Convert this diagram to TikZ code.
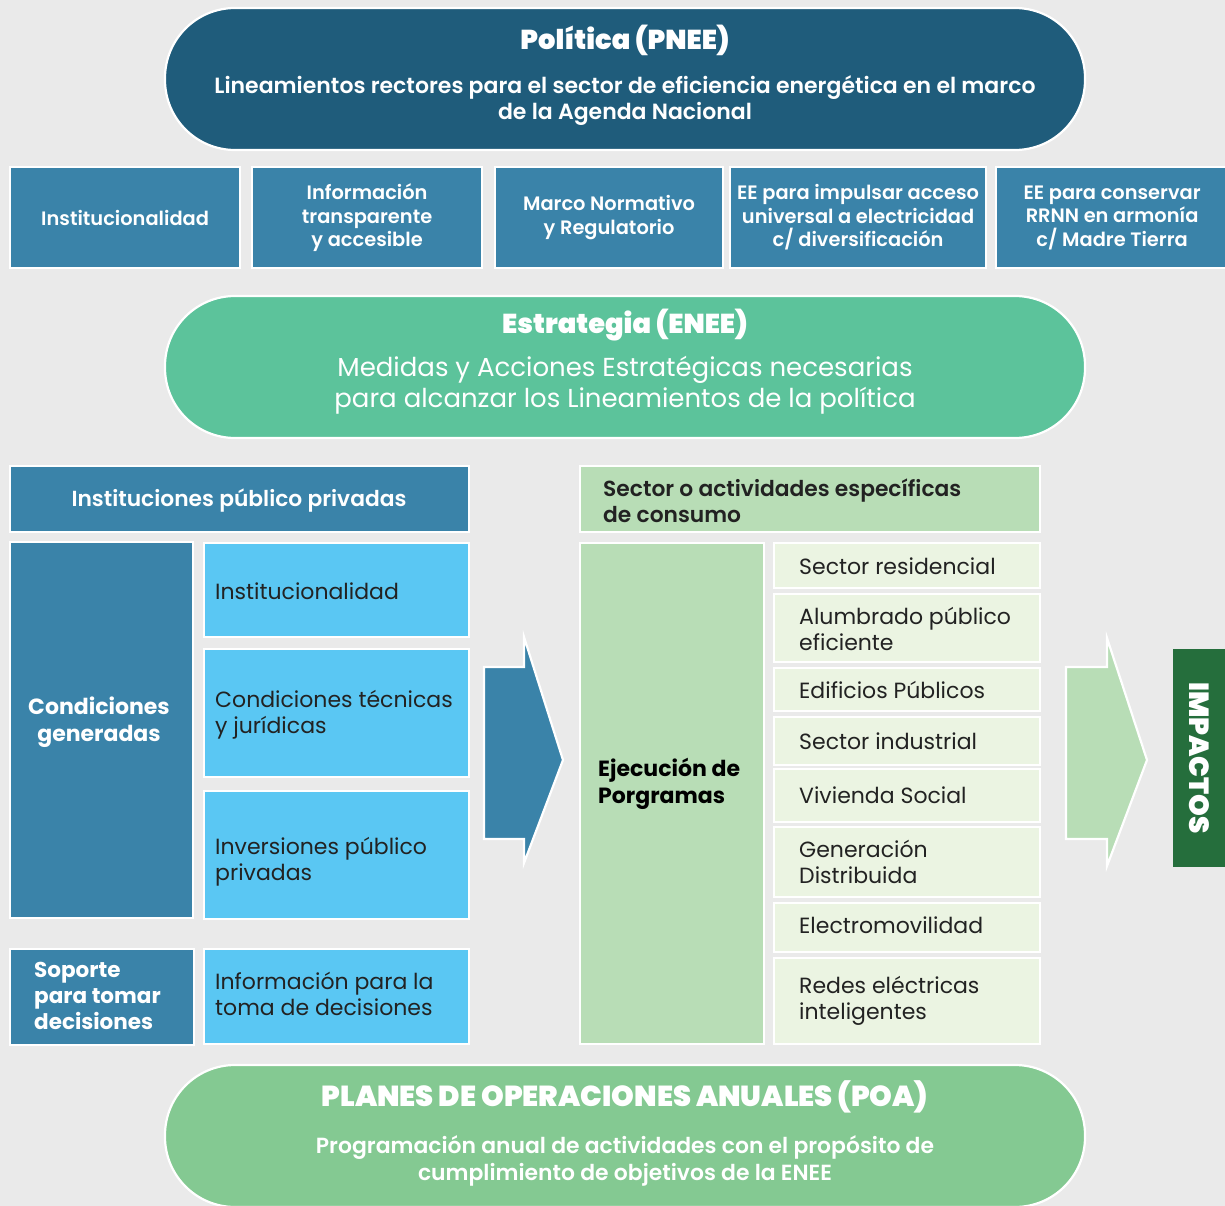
\documentclass[tikz,border=0pt]{standalone}
\usepackage{fontspec}
\setmainfont{Poppins}
\newfontfamily\pmed{Poppins Medium}
\newfontfamily\psemi{Poppins SemiBold}
\newfontfamily\pxb{Poppins ExtraBold}
\newfontfamily\pblk{Poppins Black}
\definecolor{bg}{HTML}{EAEAEA}
\definecolor{pnee}{HTML}{1F5C7B}
\definecolor{midblue}{HTML}{3A83A9}
\definecolor{ltblue}{HTML}{5AC7F3}
\definecolor{enee}{HTML}{5CC39B}
\definecolor{ltgreen}{HTML}{B8DDB6}
\definecolor{vltgreen}{HTML}{EBF4E2}
\definecolor{poa}{HTML}{84C992}
\definecolor{dkgreen}{HTML}{256E3C}
\definecolor{dktext}{HTML}{222222}
\begin{document}
\begin{tikzpicture}[x=1pt,y=-1pt,
  box/.style={draw=white, line width=2.2pt, anchor=north west, inner sep=0pt, align=center},
  pill/.style={draw=white, line width=2.2pt, rounded corners=70pt, minimum width=920pt, minimum height=142pt, inner sep=0pt},
  bigarrow/.style={draw=white, line width=2.2pt},
  rowtxt/.style={text=white, font=\psemi\fontsize{19.4}{23.5}\selectfont},
  hdrtxt/.style={font=\psemi\fontsize{21.8}{26}\selectfont, inner sep=0pt},
  boldtxt/.style={font=\bfseries\fontsize{22}{26.5}\selectfont, align=left, inner sep=0pt},
  regtxt/.style={text=dktext, font=\fontsize{22}{26}\selectfont, align=left, inner sep=0pt, anchor=west},
  titletxt/.style={text=white, font=\pblk\fontsize{27.3}{31}\selectfont, anchor=base, inner sep=0pt},
]
\fill[bg] (0,0) rectangle (1225,1206);
\useasboundingbox (0,0) rectangle (1225,1206);

% ---------- Politica ----------
\node[pill, fill=pnee] (pnee) at (625,79) {};
\node[titletxt] (pneeT) at (625,50) {Política (PNEE)};
\node[text=white, font=\psemi\fontsize{22}{26}\selectfont, align=center, inner sep=0pt] (pneeS) at (625,101)
  {Lineamientos rectores para el sector de eficiencia energética en el marco\\de la Agenda Nacional};

% ---------- row of lineamientos ----------
\node[box, fill=midblue, minimum width=230pt, minimum height=101pt, rowtxt] (r1) at (9,166) {Institucionalidad};
\node[box, fill=midblue, minimum width=230pt, minimum height=101pt, rowtxt] (r2) at (251,166) {Información\\transparente\\y accesible};
\node[box, fill=midblue, minimum width=228pt, minimum height=101pt, rowtxt] (r3) at (494,166) {Marco Normativo\\y Regulatorio};
\node[box, fill=midblue, minimum width=256pt, minimum height=101pt, rowtxt] (r4) at (729,166) {EE para impulsar acceso\\universal a electricidad\\c/ diversificación};
\node[box, fill=midblue, minimum width=232pt, minimum height=101pt, rowtxt] (r5) at (995,166) {EE para conservar\\RRNN en armonía\\c/ Madre Tierra};

% ---------- Estrategia ----------
\node[pill, fill=enee] (enee) at (625,367) {};
\node[titletxt] (eneeT) at (625,333) {Estrategia (ENEE)};
\node[text=white, font=\fontsize{26}{31}\selectfont, align=center, inner sep=0pt] (eneeS) at (625,385)
  {Medidas y Acciones Estratégicas necesarias\\para alcanzar los Lineamientos de la política};

% ---------- left block ----------
\node[box, fill=midblue, minimum width=459pt, minimum height=66pt] (ipp) at (9,465) {};
\node[hdrtxt, text=white] (ippT) at (239,501) {Instituciones público privadas};
\node[box, fill=midblue, minimum width=183pt, minimum height=376pt] (cg) at (9,541) {};
\node[boldtxt, text=white, align=center, font=\bfseries\fontsize{22}{27}\selectfont] (cgT) at (99,722) {Condiciones\\generadas};
\node[box, fill=ltblue, minimum width=265pt, minimum height=94pt] (lb1) at (203,542) {};
\node[regtxt] (lb1T) at (215,591) {Institucionalidad};
\node[box, fill=ltblue, minimum width=265pt, minimum height=128pt] (lb2) at (203,648) {};
\node[regtxt] (lb2T) at (215,715) {Condiciones técnicas\\y jurídicas};
\node[box, fill=ltblue, minimum width=265pt, minimum height=128pt] (lb3) at (203,790) {};
\node[regtxt] (lb3T) at (215,862) {Inversiones público\\privadas};
\node[box, fill=midblue, minimum width=184pt, minimum height=96pt] (sop) at (9,948) {};
\node[boldtxt, text=white, anchor=west, font=\bfseries\fontsize{21.5}{26}\selectfont] (sopT) at (34,996) {Soporte\\para tomar\\decisiones};
\node[box, fill=ltblue, minimum width=265pt, minimum height=95pt] (lb4) at (203,948) {};
\node[regtxt] (lb4T) at (215,994) {Información para la\\toma de decisiones};

% ---------- arrows ----------
\draw[bigarrow, fill=midblue] (484,667) -- (524,667) -- (524,637) -- (563,760) -- (524,863) -- (524,839) -- (484,839) -- cycle;
\draw[bigarrow, fill=ltgreen] (1066,667) -- (1107,667) -- (1107,638) -- (1147,760) -- (1107,866) -- (1107,839) -- (1066,839) -- cycle;

% ---------- right block ----------
\node[box, fill=ltgreen, minimum width=460pt, minimum height=66pt] (sect) at (579,465) {};
\node[text=dktext, hdrtxt, align=left, anchor=west] (sectT) at (603,501) {Sector o actividades específicas\\de consumo};
\node[box, fill=ltgreen, minimum width=184pt, minimum height=501pt] (ejec) at (579,542) {};
\node[boldtxt, text=black, anchor=west] (ejecT) at (598,784) {Ejecución de\\Porgramas};

\node[box, fill=vltgreen, minimum width=266pt, minimum height=45pt] (s1) at (773,542) {};
\node[regtxt] (s1T) at (799,566) {Sector residencial};
\node[box, fill=vltgreen, minimum width=266pt, minimum height=68pt] (s2) at (773,593) {};
\node[regtxt] (s2T) at (799,629) {Alumbrado público\\eficiente};
\node[box, fill=vltgreen, minimum width=266pt, minimum height=43pt] (s3) at (773,667) {};
\node[regtxt] (s3T) at (799,690) {Edificios Públicos};
\node[box, fill=vltgreen, minimum width=266pt, minimum height=48pt] (s4) at (773,716) {};
\node[regtxt] (s4T) at (799,741) {Sector industrial};
\node[box, fill=vltgreen, minimum width=266pt, minimum height=53pt] (s5) at (773,768) {};
\node[regtxt] (s5T) at (799,795) {Vivienda Social};
\node[box, fill=vltgreen, minimum width=266pt, minimum height=70pt] (s6) at (773,826) {};
\node[regtxt] (s6T) at (799,862) {Generación\\Distribuida};
\node[box, fill=vltgreen, minimum width=266pt, minimum height=49pt] (s7) at (773,902) {};
\node[regtxt] (s7T) at (799,925) {Electromovilidad};
\node[box, fill=vltgreen, minimum width=266pt, minimum height=86pt] (s8) at (773,957) {};
\node[regtxt] (s8T) at (799,1001) {Redes eléctricas\\inteligentes};

% ---------- impactos ----------
\node[fill=dkgreen, minimum width=218pt, minimum height=52pt, inner sep=0pt, rotate=-90, text=white, font=\pblk\fontsize{27.7}{31}\selectfont] (imp) at (1199,758) {IMPACTOS};

% ---------- POA ----------
\node[pill, fill=poa] (poa) at (625,1136) {};
\node[titletxt, font=\pblk\fontsize{28.9}{33}\selectfont] (poaT) at (625,1106) {PLANES DE OPERACIONES ANUALES (POA)};
\node[text=white, font=\psemi\fontsize{21.9}{26.5}\selectfont, align=center, inner sep=0pt] (poaS) at (625,1161)
  {Programación anual de actividades con el propósito de\\cumplimiento de objetivos de la ENEE};
\end{tikzpicture}
\end{document}
